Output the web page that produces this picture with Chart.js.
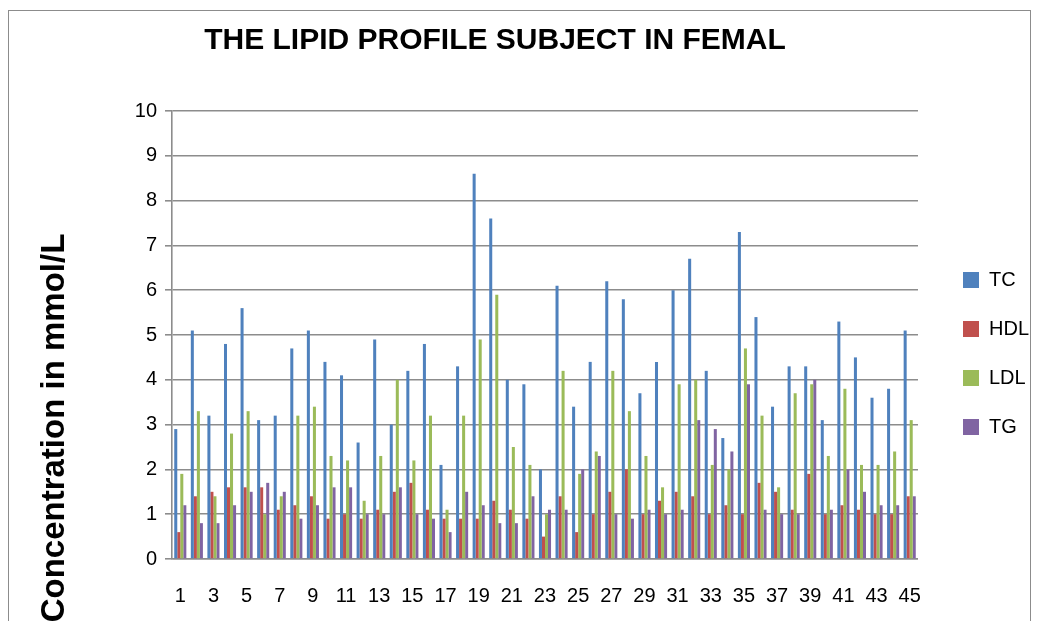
<!DOCTYPE html>
<html>
<head>
<meta charset="utf-8">
<title>Lipid profile</title>
<script src="https://cdn.jsdelivr.net/npm/chart.js@4.4.1/dist/chart.umd.min.js"></script>
<style>
 body{ margin:0; background:#fff; overflow:hidden; }
 #marco{ position:absolute; left:8px; top:10px; width:1023px; height:700px; border:1px solid #8c8c8c; box-sizing:border-box; }
 #lienzo{ position:absolute; left:8px; top:10px; }
</style>
</head>
<body>
<div id="marco"></div>
<canvas id="lienzo" width="1031" height="640"></canvas>
<script>
// datos
const TITULO = "THE LIPID PROFILE SUBJECT IN FEMAL"
const TITULO_Y = "Concentration in mmol/L"

const sujetos = ["1","2","3","4","5","6","7","8","9","10","11","12","13","14","15","16","17","18","19","20","21","22","23","24","25","26","27","28","29","30","31","32","33","34","35","36","37","38","39","40","41","42","43","44","45"]

const tc  = [2.9,5.1,3.2,4.8,5.6,3.1,3.2,4.7,5.1,4.4,4.1,2.6,4.9,3.0,4.2,4.8,2.1,4.3,8.6,7.6,4.0,3.9,2.0,6.1,3.4,4.4,6.2,5.8,3.7,4.4,6.0,6.7,4.2,2.7,7.3,5.4,3.4,4.3,4.3,3.1,5.3,4.5,3.6,3.8,5.1]
const hdl = [0.6,1.4,1.5,1.6,1.6,1.6,1.1,1.2,1.4,0.9,1.0,0.9,1.1,1.5,1.7,1.1,0.9,0.9,0.9,1.3,1.1,0.9,0.5,1.4,0.6,1.0,1.5,2.0,1.0,1.3,1.5,1.4,1.0,1.2,1.0,1.7,1.5,1.1,1.9,1.0,1.2,1.1,1.0,1.0,1.4]
const ldl = [1.9,3.3,1.4,2.8,3.3,1.0,1.4,3.2,3.4,2.3,2.2,1.3,2.3,4.0,2.2,3.2,1.1,3.2,4.9,5.9,2.5,2.1,1.0,4.2,1.9,2.4,4.2,3.3,2.3,1.6,3.9,4.0,2.1,2.0,4.7,3.2,1.6,3.7,3.9,2.3,3.8,2.1,2.1,2.4,3.1]
const tg  = [1.2,0.8,0.8,1.2,1.5,1.7,1.5,0.9,1.2,1.6,1.6,1.0,1.0,1.6,1.0,0.9,0.6,1.5,1.2,0.8,0.8,1.4,1.1,1.1,2.0,2.3,1.0,0.9,1.1,1.0,1.1,3.1,2.9,2.4,3.9,1.1,1.0,1.0,4.0,1.1,2.0,1.5,1.2,1.2,1.4]

const series = ["TC","HDL","LDL","TG"]
const colores = ["#4f81bd","#c0504d","#9bbb59","#8064a2"]

const fuente = '"Liberation Sans", Arial, sans-serif'
const gris = "#8c8c8c"

// titulos dibujados a mano (el de Excel no esta centrado)
const titulos = {
 id: "titulos",
 afterDraw(chart){
  const ctx = chart.ctx
  ctx.save()
  ctx.fillStyle = "#000"
  ctx.textAlign = "center"
  ctx.textBaseline = "middle"
  ctx.font = "bold 30px " + fuente
  ctx.fillText(TITULO, 487, 31)
  ctx.translate(47, 418)
  ctx.rotate(-Math.PI/2)
  ctx.font = "bold 33px " + fuente
  ctx.fillText(TITULO_Y, 0, 0)
  ctx.restore()
 }
}

const valores = [tc, hdl, ldl, tg]

new Chart(document.getElementById("lienzo"), {
 type: "bar",
 data: {
  labels: sujetos,
  datasets: series.map((s, i) => ({
   label: s,
   data: valores[i],
   backgroundColor: colores[i],
   borderWidth: 0,
   categoryPercentage: 0.73,
   barPercentage: 1.0
  }))
 },
 options: {
  responsive: false,
  animation: false,
  events: [],
  layout: { padding: { top: 83, bottom: 36, left: 0, right: 0 } },
  plugins: {
   // caja vacia, solo reserva espacio arriba del area
   title: { display: true, text: "", padding: 0, font: { size: 15, lineHeight: 1.2 } },
   tooltip: { enabled: false },
   legend: {
    position: "right",
    labels: { boxWidth: 16, boxHeight: 16, padding: 29, color: "#000", font: { family: fuente, size: 20 } }
   }
  },
  scales: {
   x: {
    grid: { display: false, drawTicks: false },
    border: { display: true, color: gris, width: 1.6 },
    ticks: {
     autoSkip: false, maxRotation: 0, padding: 25, color: "#000",
     font: { family: fuente, size: 20 },
     callback: function(v, i){ return i % 2 === 0 ? this.getLabelForValue(v) : "" }
    },
    afterFit: s => { s.height = 55 }
   },
   y: {
    min: 0, max: 10,
    grid: { color: gris, lineWidth: 1.6, tickLength: 7 },
    border: { display: true, color: gris, width: 1.6 },
    ticks: { stepSize: 1, padding: 8, color: "#000", font: { family: fuente, size: 20 } },
    afterFit: s => { s.width = 164 }
   },
   hueco: {
    type: "linear", position: "right", display: true,
    grid: { display: false }, border: { display: false }, ticks: { display: false },
    afterFit: s => { s.width = 16 }
   }
  }
 },
 plugins: [titulos]
})
</script>
</body>
</html>
